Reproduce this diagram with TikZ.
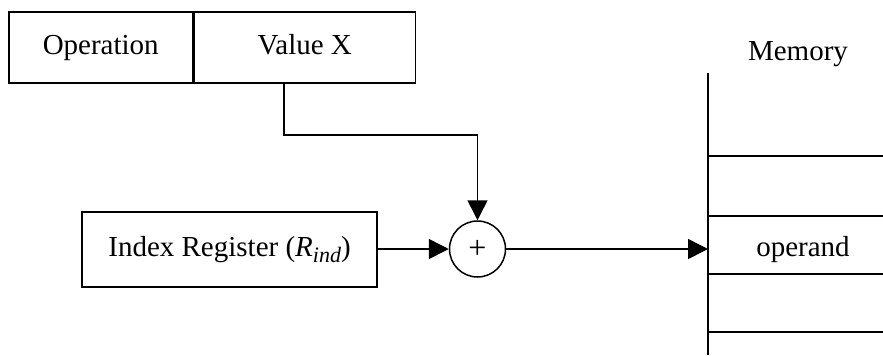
\documentclass[tikz,border=0pt]{standalone}
\usepackage{fontspec}
\setmainfont{Liberation Serif}
\usetikzlibrary{arrows.meta}
\tikzset{
  wire/.style={line width=0.75pt},
  flow/.style={wire, -{Triangle[length=10pt,width=10pt]}},
  regbox/.style={draw, line width=0.75pt, minimum height=35.5pt, inner sep=0pt},
  lbl/.style={font=\fontsize{14.5}{17}\selectfont, inner sep=0pt,
              text height=10pt, text depth=3pt}
}
\begin{document}
\begin{tikzpicture}[x=0.5pt, y=-0.5pt]
  \useasboundingbox (0,0) rectangle (883,355);

  % instruction word: operation field and address field
  \node[regbox, lbl, anchor=north west, minimum width=92pt] (op) at (8,11) {Operation};
  \node[regbox, lbl, anchor=north west, minimum width=110.5pt] (val) at (op.north east) {Value X};

  % index register
  \node[regbox, lbl, minimum width=147.5pt, minimum height=37.5pt] (idx) at (229.5,249.5)
    {Index Register ({\itshape R}\raisebox{-0.45ex}{\fontsize{11}{12}\selectfont\itshape ind})};

  % adder
  \node[draw, circle, line width=0.75pt, minimum size=28pt, inner sep=0pt,
        font=\fontsize{16}{18}\selectfont] (add) at (477.5,249) {+};

  % memory column
  \coordinate (memtop) at (708,73);
  \coordinate (membot) at (708,355);
  \draw[wire] (memtop) -- (membot);
  \foreach \yy in {156,216,274,332}
    \draw[wire] (708,\yy) -- (883,\yy);
  \node[lbl] (memlabel) at (798,53) {Memory};
  \node[lbl] (operand) at (803,249) {operand};
  \coordinate (cell) at (708,249);

  % connections
  \draw[flow] (val.south -| 284,0) |- (477.5,135) -- (add.north);
  \draw[flow] (idx.east |- add.west) -- (add.west);
  \draw[flow] (add.east) -- (cell);
\end{tikzpicture}
\end{document}
